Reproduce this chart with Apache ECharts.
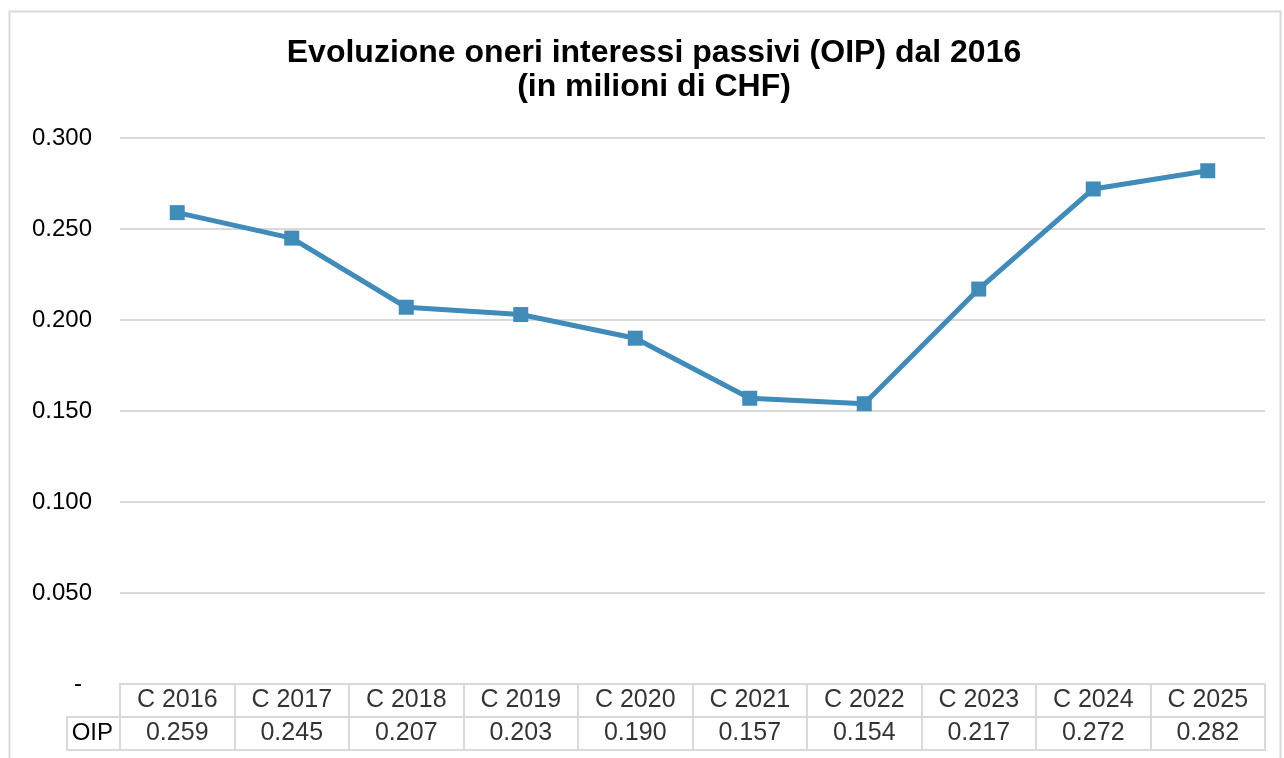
<!DOCTYPE html>
<html>
<head>
<meta charset="utf-8">
<script src="https://cdn.jsdelivr.net/npm/echarts@6/dist/echarts.min.js"></script>
<style>
	html, body { margin: 0; padding: 0; background: #ffffff; }
	#main { width: 1284px; height: 758px; }
</style>
</head>
<body>
<div id="main"></div>
<script>
	//类别
	var categories = ["C 2016", "C 2017", "C 2018", "C 2019", "C 2020", "C 2021", "C 2022", "C 2023", "C 2024", "C 2025"];
	//OIP 数值
	var oipValues = [0.259, 0.245, 0.207, 0.203, 0.190, 0.157, 0.154, 0.217, 0.272, 0.282];
	var seriesName = "OIP";
	var titleLines = ["Evoluzione oneri interessi passivi (OIP) dal 2016", "(in milioni di CHF)"];

	var font = "Liberation Sans, Arial, sans-serif";
	var gridColor = "#d9d9d9";
	var lineColor = "#3f8bba";

	var chart = echarts.init(document.getElementById("main"));

	//表格行的数据
	var headerRow = [];
	var valueRow = [];
	for (var i = 0; i < categories.length; i++) {
		headerRow.push([categories[i], "", categories[i]]);
		valueRow.push([categories[i], seriesName, oipValues[i].toFixed(3)]);
	}

	var option = {
		animation: false,
		title: {
			text: titleLines.join("\n"),
			left: 649,
			top: 31,
			textAlign: "center",
			textStyle: {
				fontFamily: font,
				fontWeight: "bold",
				fontSize: 32,
				lineHeight: 34,
				color: "#000000",
			},
		},
		graphic: [
			{
				//外边框
				type: "rect",
				shape: { x: 9.5, y: 11.5, width: 1271, height: 760 },
				style: { fill: "none", stroke: gridColor, lineWidth: 2 },
				silent: true,
			},
			{
				//OIP 单元格
				type: "rect",
				shape: { x: 67, y: 717, width: 53, height: 33 },
				style: { fill: "none", stroke: gridColor, lineWidth: 2 },
				silent: true,
			},
		],
		grid: [
			{ left: 120, right: 19, top: 138, bottom: 74 },
			{ left: 120, right: 19, top: 684, height: 66, show: true, borderColor: gridColor, borderWidth: 2 },
		],
		xAxis: [
			{
				type: "category",
				gridIndex: 0,
				data: categories,
				boundaryGap: true,
				axisLine: { show: false },
				axisTick: { show: false },
				axisLabel: { show: false },
			},
			{
				type: "category",
				gridIndex: 1,
				data: categories,
				boundaryGap: true,
				axisLine: { show: false },
				axisTick: { show: false },
				axisLabel: { show: false },
				splitLine: { show: true, lineStyle: { color: gridColor, width: 2 } },
			},
		],
		yAxis: [
			{
				type: "value",
				gridIndex: 0,
				min: 0,
				max: 0.3,
				interval: 0.05,
				axisLine: { show: false },
				axisTick: { show: false },
				splitLine: {
					lineStyle: { color: gridColor, width: 2 },
					showMinLine: false,
				},
				axisLabel: {
					margin: 28,
					fontFamily: font,
					fontSize: 24,
					color: "#000000",
					formatter: function (v) {
						if (v === 0) return "{z|-}";
						return v.toFixed(3);
					},
					rich: {
						z: { fontFamily: font, fontSize: 24, color: "#000000", padding: [0, 10, 0, 0] },
					},
				},
			},
			{
				type: "category",
				gridIndex: 1,
				data: [seriesName, ""],
				axisLine: { show: false },
				axisTick: { show: false },
				splitLine: { show: true, lineStyle: { color: gridColor, width: 2 } },
				axisLabel: {
					margin: 7,
					fontFamily: font,
					fontSize: 24,
					color: "#000000",
				},
			},
		],
		series: [
			{
				name: seriesName,
				type: "line",
				xAxisIndex: 0,
				yAxisIndex: 0,
				data: oipValues,
				symbol: "rect",
				symbolSize: 15,
				lineStyle: { color: lineColor, width: 5 },
				itemStyle: { color: lineColor },
			},
			{
				//表头
				type: "scatter",
				xAxisIndex: 1,
				yAxisIndex: 1,
				data: headerRow,
				symbolSize: 0,
				label: {
					show: true,
					position: "inside",
					fontFamily: font,
					fontSize: 25,
					color: "#000000",
					formatter: function (p) {
						return p.value[2];
					},
				},
			},
			{
				//数值行
				type: "scatter",
				xAxisIndex: 1,
				yAxisIndex: 1,
				data: valueRow,
				symbolSize: 0,
				label: {
					show: true,
					position: "inside",
					fontFamily: font,
					fontSize: 25,
					color: "#000000",
					formatter: function (p) {
						return p.value[2];
					},
				},
			},
		],
	};
	chart.setOption(option);
</script>
</body>
</html>
